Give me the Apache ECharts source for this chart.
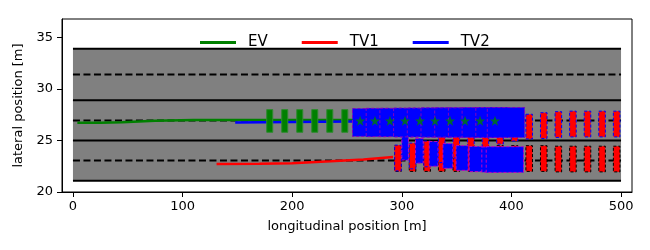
<!DOCTYPE html>
<html><head><meta charset="utf-8">
<script src="https://cdn.jsdelivr.net/npm/echarts@6/dist/echarts.min.js"></script>
<style>html,body{margin:0;padding:0;background:#fff}#c{width:650px;height:250px}</style>
</head><body><div id="c"></div>
<script>
// ---- data ----
const xTicks = [0, 100, 200, 300, 400, 500];
const yTicks = [20, 25, 30, 35];
const roadX = [0, 500];
const laneSolid = [21.1, 25.0, 28.9, 33.9];
const laneDashed = [23.05, 26.95, 31.4];

const evPath = [[4,26.72],[25,26.72],[45,26.78],[75,26.93],[110,26.98],[150,27.0],[200,27.0],[262,27.0]];
const tv1Path = [[131,22.72],[170,22.75],[200,22.8],[235,22.98],[265,23.15],[292,23.4]];
const tv2Path = [[148,26.76],[200,26.8],[255,26.85]];

// EV vehicle boxes: [x, y, length, width]
const evBoxes = [[179.5,26.9,5.5,2.2],[193.2,26.9,5.5,2.2],[206.9,26.9,5.5,2.2],[220.6,26.9,5.5,2.2],[234.3,26.9,5.5,2.2],[248.0,26.9,5.5,2.2]];
const evStars = [[262,26.92],[275.5,26.92],[289.2,26.92],[302.9,26.92],[316.6,26.92],[330.3,26.92],[344,26.92],[357.7,26.92],[371.4,26.92],[385,26.92]];

// TV1 predicted boxes, lane keeping: [x, y, length, width]
const tv1KeepBoxes = [[296.5,23.25,6,2.5],[309.8,23.25,6,2.5],[323.1,23.25,6,2.5],[336.4,23.25,6,2.5],[349.7,23.25,6,2.5],[363,23.25,6,2.5],[376.3,23.25,6,2.5],[389.6,23.25,6,2.5],[402.9,23.25,6,2.5],[416.2,23.25,6,2.5],[429.5,23.25,6,2.5],[442.8,23.2,6,2.5],[456.1,23.2,6,2.5],[469.4,23.2,6,2.5],[482.7,23.2,6,2.5],[496,23.2,6,2.5]];
// TV1 predicted boxes, lane change: [x, y, length, width]
const tv1ChangeBoxes = [[296.5,23.3,6,2.5],[309.8,23.5,6,2.5],[323.1,23.7,6,2.5],[336.4,24.1,6,2.5],[349.7,24.55,6,2.5],[363,25.0,6,2.5],[376.3,25.5,6,2.5],[389.6,25.9,6,2.5],[402.9,26.2,6,2.5],[416.2,26.35,6,2.4],[429.5,26.45,6,2.5],[442.8,26.55,6,2.5],[456.1,26.6,6,2.5],[469.4,26.6,6,2.5],[482.7,26.6,6,2.5],[496,26.6,6,2.5]];
// TV2 predicted boxes, lane keeping: [x, y, length, width]
const tv2KeepBoxes = [[265,26.75,20,2.7],[278,26.75,21,2.75],[291,26.75,22,2.75],[304,26.75,23,2.8],[317,26.75,24,2.8],[330,26.75,25,2.85],[343,26.75,26,2.85],[356,26.75,27,2.85],[369,26.75,28,2.9],[382,26.75,29,2.9],[395,26.75,34,2.9]];
// TV2 predicted boxes, lane change: [x, y, length, width]
const tv2ChangeBoxes = [[303,24.3,6,2.4],[316,24.0,7,2.4],[329,23.7,8,2.4],[342,23.5,9,2.4],[355,23.3,11,2.4],[368,23.2,13,2.45],[381,23.15,16,2.45],[394,23.15,34,2.5]];

// ---- chart ----
const FONT = 'DejaVu Sans';
function boxRender(fill, stroke, dash) {
  return function (params, api) {
    const xc = api.value(0), yc = api.value(1), L = api.value(2), W = api.value(3);
    const p0 = api.coord([xc - L / 2, yc + W / 2]);
    const p1 = api.coord([xc + L / 2, yc - W / 2]);
    return { type: 'rect', shape: { x: p0[0], y: p0[1], width: p1[0] - p0[0], height: p1[1] - p0[1] },
      style: { fill: fill, stroke: stroke, lineWidth: 1, lineDash: dash } };
  };
}
function boxSeries(data, fill, stroke, dash, z) {
  return { type: 'custom', data: data, renderItem: boxRender(fill, stroke, dash), z: z, silent: true, clip: true };
}
const roadData = [[roadX[0], roadX[1], laneSolid[0], laneSolid[laneSolid.length - 1]]];

const starPath = 'path://M0,-10 L2.35,-3.24 L9.51,-3.09 L3.8,1.24 L5.88,8.09 L0,4 L-5.88,8.09 L-3.8,1.24 L-9.51,-3.09 L-2.35,-3.24 Z';

const chart = echarts.init(document.getElementById('c'), null, { renderer: 'canvas' });
chart.setOption({
  animation: false,
  backgroundColor: '#fff',
  textStyle: { fontFamily: FONT },
  grid: { left: 62, right: 18, top: 19, bottom: 58, show: true, borderColor: '#000', borderWidth: 1, backgroundColor: 'transparent' },
  legend: {
    data: ['EV', 'TV1', 'TV2'], left: 195, top: 30, icon: 'rect', itemWidth: 36, itemHeight: 3, itemGap: 34,
    textStyle: { fontFamily: FONT, fontSize: 15, color: '#000', padding: [0, 0, 0, 7] }
  },
  xAxis: {
    type: 'value', min: -10, max: 510,
    name: 'longitudinal position [m]', nameLocation: 'middle', nameGap: 28,
    nameTextStyle: { fontFamily: FONT, fontSize: 13, color: '#000' },
    axisLine: { show: true, onZero: false, lineStyle: { color: '#000', width: 1 } },
    axisTick: { show: true, inside: false, length: 5, customValues: xTicks, lineStyle: { color: '#000' } },
    axisLabel: { customValues: xTicks, margin: 8, fontFamily: FONT, fontSize: 13, color: '#000' },
    splitLine: { show: false }
  },
  yAxis: {
    type: 'value', min: 20, max: 36.8,
    name: 'lateral position [m]', nameLocation: 'middle', nameGap: 32, nameRotate: 90,
    nameTextStyle: { fontFamily: FONT, fontSize: 13, color: '#000' },
    axisLine: { show: true, onZero: false, lineStyle: { color: '#000', width: 1 } },
    axisTick: { show: true, inside: false, length: 5, customValues: yTicks, lineStyle: { color: '#000' } },
    axisLabel: { customValues: yTicks, margin: 9, fontFamily: FONT, fontSize: 13, color: '#000' },
    splitLine: { show: false }
  },
  series: [
    { type: 'custom', data: roadData, z: 1, silent: true,
      renderItem: function (params, api) {
        const p0 = api.coord([api.value(0), api.value(3)]);
        const p1 = api.coord([api.value(1), api.value(2)]);
        return { type: 'rect', shape: { x: p0[0], y: p0[1], width: p1[0] - p0[0], height: p1[1] - p0[1] }, style: { fill: '#808080' } };
      } },
    { type: 'custom', data: laneSolid.map(function (y) { return [roadX[0], roadX[1], y]; }), z: 2, silent: true,
      renderItem: function (params, api) {
        const a = api.coord([api.value(0), api.value(2)]), b = api.coord([api.value(1), api.value(2)]);
        return { type: 'line', shape: { x1: a[0], y1: a[1], x2: b[0], y2: b[1] }, style: { stroke: '#000', lineWidth: 2 } };
      } },
    { type: 'custom', data: laneDashed.map(function (y) { return [roadX[0], roadX[1], y]; }), z: 2, silent: true,
      renderItem: function (params, api) {
        const a = api.coord([api.value(0), api.value(2)]), b = api.coord([api.value(1), api.value(2)]);
        return { type: 'line', shape: { x1: a[0], y1: a[1], x2: b[0], y2: b[1] }, style: { stroke: '#000', lineWidth: 2, lineDash: [7, 3.5] } };
      } },
    { name: 'EV', type: 'line', data: evPath, showSymbol: false, z: 3, color: '#008000', lineStyle: { color: '#008000', width: 2.5 } },
    { name: 'TV1', type: 'line', data: tv1Path, showSymbol: false, z: 3, color: '#ff0000', lineStyle: { color: '#ff0000', width: 2.5 } },
    { name: 'TV2', type: 'line', data: tv2Path, showSymbol: false, z: 4, color: '#0000ff', lineStyle: { color: '#0000ff', width: 2.5 } },
    boxSeries(evBoxes, '#008000', '#2e8b2e', null, 5),
    boxSeries(tv1KeepBoxes, '#ff0000', '#000000', [3, 2], 6),
    boxSeries(tv1ChangeBoxes, '#ff0000', '#0000ff', [3, 2], 6),
    boxSeries(tv2ChangeBoxes, '#0000ff', '#c000c0', [3, 2], 7),
    boxSeries(tv2KeepBoxes, '#0000ff', '#8000c0', [3, 2], 7),
    { type: 'scatter', data: evStars, symbol: starPath, symbolSize: 10, z: 8, silent: true,
      itemStyle: { color: '#008000' } }
  ]
});
</script></body></html>
